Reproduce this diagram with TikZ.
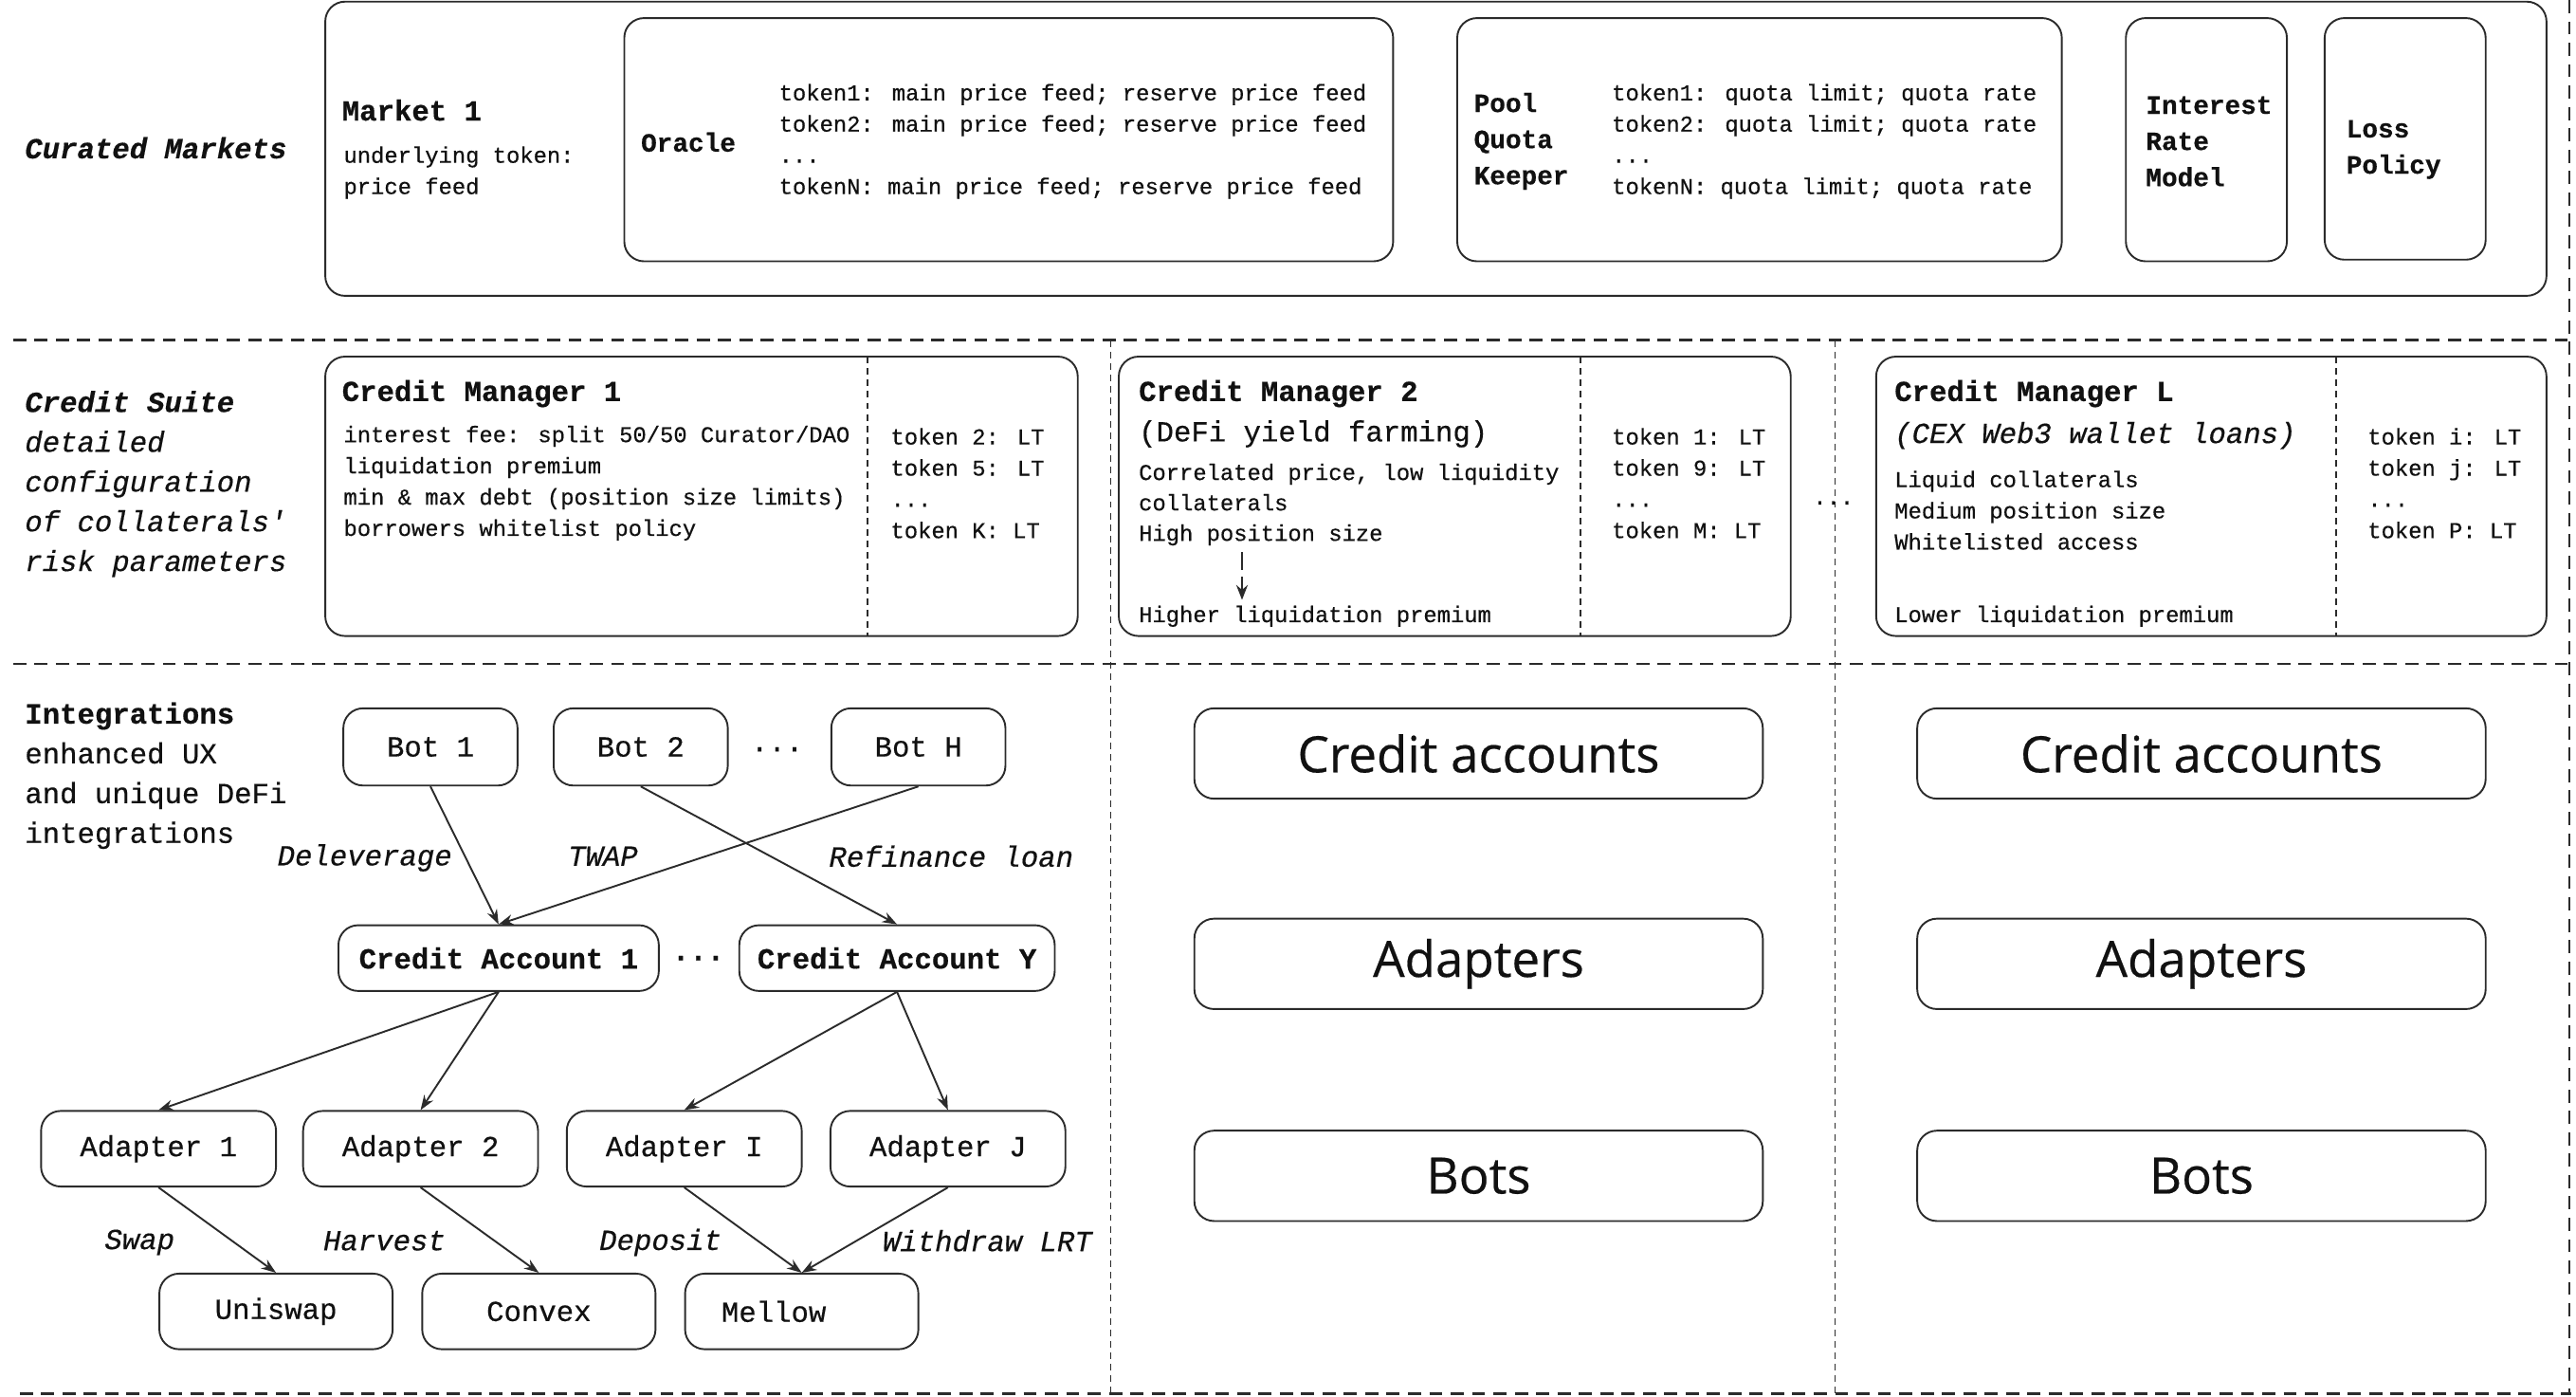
\documentclass[tikz,border=0pt]{standalone}
\usepackage{fontspec}
\setmainfont{Liberation Mono}[Ligatures=TeXOff,FakeBold=0.5]
\newfontfamily\bigsans{Open Sans}[FakeBold=0.4]
\usetikzlibrary{arrows.meta}
\definecolor{lc}{HTML}{2B2B2B}
\definecolor{tc}{HTML}{111111}
\newcommand\mySmall{\fontsize{13.75}{19}\selectfont}
\newcommand\myLarge{\fontsize{17.7}{24.2}\selectfont}
\newcommand\myHead{\fontsize{16}{22}\selectfont}
\newcommand\myBig{\bigsans\fontsize{30.5}{36}\selectfont}
\begin{document}
\begin{tikzpicture}[x=1pt,y=-1pt,
  rbox/.style={draw=lc,line width=1.1pt,rounded corners=12pt,inner sep=0pt,text=tc},
  txt/.style={inner sep=0pt,anchor=west,align=left,text=tc},
  lbl/.style={inner sep=0pt,text=tc,font=\myLarge\itshape},
  arr/.style={draw=lc,line width=1.1pt,-{Stealth[length=9pt,width=6.5pt]}},
  sepline/.style={draw=lc,line width=1.6pt,dash pattern=on 8pt off 5pt},
  thinline/.style={draw=lc,line width=0.7pt,dash pattern=on 4pt off 3pt},
  bot/.style={rbox,minimum width=106pt,minimum height=47pt,font=\myLarge},
  adp/.style={rbox,minimum width=143pt,minimum height=46pt,font=\myLarge},
  cab/.style={rbox,minimum height=40pt,font=\myLarge\bfseries},
  bigbox/.style={rbox,minimum width=346pt,minimum height=55pt,font=\myBig},
]
\useasboundingbox (0,0) rectangle (1568,849.5);

% ---------- section separators ----------
\draw[sepline] (8,207) -- (1565,207);
\draw[sepline] (8,404) -- (1565,404);
\draw[sepline] (12,848) -- (1565,848);
\draw[sepline] (1564,0) -- (1564,848);
\draw[thinline] (676,207) -- (676,848);
\draw[thinline] (1117,207) -- (1117,848);

% ---------- Curated Markets ----------
\node[txt,font=\myLarge\bfseries\itshape] (curated) at (15,90) {Curated Markets};
\node[rbox,minimum width=1352pt,minimum height=179pt] (market) at (874,90.5) {};
\node[txt,font=\myLarge\bfseries] (m1) at (208,67) {Market 1};
\node[txt,font=\mySmall] (m1t) at (209,105) {underlying token:\\price feed};

\node[rbox,minimum width=468pt,minimum height=148pt] (oracle) at (614,85) {};
\node[txt,font=\myHead\bfseries] (oraclet) at (390,86.5) {Oracle};
\node[txt,font=\mySmall] (oraclel) at (474,86) {token1: main price feed; reserve price feed\\token2: main price feed; reserve price feed\\...\\tokenN: main price feed; reserve price feed};

\node[rbox,minimum width=368pt,minimum height=148pt] (pqk) at (1071,85) {};
\node[txt,font=\myHead\bfseries] (pqkt) at (897,86) {Pool\\Quota\\Keeper};
\node[txt,font=\mySmall] (pqkl) at (981,86) {token1: quota limit; quota rate\\token2: quota limit; quota rate\\...\\tokenN: quota limit; quota rate};

\node[rbox,minimum width=98pt,minimum height=148pt] (irm) at (1343,85) {};
\node[txt,font=\myHead\bfseries] (irmt) at (1306,86) {Interest\\Rate\\Model};

\node[rbox,minimum width=98pt,minimum height=147pt] (lp) at (1464,84.5) {};
\node[txt,font=\myHead\bfseries] (lpt) at (1428,91) {Loss\\Policy};

% ---------- Credit Suite ----------
\node[txt,font=\myLarge] (suite) at (15,294.5) {\textbf{\textit{Credit Suite}}\\\textit{detailed}\\\textit{configuration}\\\textit{of collaterals'}\\\textit{risk parameters}};

% CM1
\node[rbox,minimum width=458pt,minimum height=170pt] (cm1) at (427,302) {};
\draw[thinline] (528,217) -- (528,387);
\node[txt,font=\myLarge\bfseries] (cm1h) at (208,239.5) {Credit Manager 1};
\node[txt,font=\mySmall] (cm1l) at (209,294) {interest fee: split 50/50 Curator/DAO\\liquidation premium\\min \& max debt (position size limits)\\borrowers whitelist policy};
\node[txt,font=\mySmall] (cm1r) at (542,294) {token 2: LT\\token 5: LT\\...\\token K: LT};

% CM2
\node[rbox,minimum width=409pt,minimum height=170pt] (cm2) at (885.5,302) {};
\draw[thinline] (962,217) -- (962,387);
\node[txt,font=\myLarge\bfseries] (cm2h) at (693,239.5) {Credit Manager 2};
\node[txt,font=\myLarge] (cm2s) at (693,264) {(DeFi yield farming)};
\node[txt,font=\fontsize{13.75}{18.5}\selectfont] (cm2l) at (693,307) {Correlated price, low liquidity\\collaterals\\High position size};
\node[txt,font=\mySmall] (cm2b) at (693,375) {Higher liquidation premium};
\coordinate (cm2a) at (756,336);
\coordinate (cm2z) at (756,365);
\draw[draw=lc,line width=1.2pt,dash pattern=on 11pt off 4pt,-{Stealth[length=9pt,width=7pt]}] (cm2a) -- (cm2z);
\node[txt,font=\mySmall] (cm2r) at (981,294) {token 1: LT\\token 9: LT\\...\\token M: LT};

\node[inner sep=0pt,font=\mySmall,text=tc] (cmdots) at (1116,306) {...};

% CML
\node[rbox,minimum width=408pt,minimum height=170pt] (cml) at (1346,302) {};
\draw[thinline] (1422,217) -- (1422,387);
\node[txt,font=\myLarge\bfseries] (cmlh) at (1153,239.5) {Credit Manager L};
\node[txt,font=\myLarge\itshape] (cmls) at (1153,265) {(CEX Web3 wallet loans)};
\node[txt,font=\mySmall] (cmll) at (1153,310.5) {Liquid collaterals\\Medium position size\\Whitelisted access};
\node[txt,font=\mySmall] (cmlb) at (1153,375) {Lower liquidation premium};
\node[txt,font=\mySmall] (cmlr) at (1441,294) {token i: LT\\token j: LT\\...\\token P: LT};

% ---------- Integrations ----------
\node[txt,font=\myLarge] (integ) at (15,472) {\textbf{Integrations}\\enhanced UX\\and unique DeFi\\integrations};

\node[bot] (bot1) at (262,454.5) {Bot 1};
\node[bot] (bot2) at (390,454.5) {Bot 2};
\node[bot] (both) at (559,454.5) {Bot H};
\node[inner sep=0pt,font=\myLarge,text=tc] (botdots) at (473,456) {...};

\node[cab,minimum width=195pt] (ca1) at (303.5,583) {Credit Account 1};
\node[cab,minimum width=192pt] (cay) at (546,583) {Credit Account Y};
\node[inner sep=0pt,font=\myLarge\bfseries,text=tc] (cadots) at (425,583) {...};

\draw[arr] (bot1.south) -- (ca1.north);
\draw[arr] (both.south) -- (ca1.north);
\draw[arr] (bot2.south) -- (cay.north);
\node[lbl] (l1) at (222,522) {Deleverage};
\node[lbl] (l2) at (367,521) {TWAP};
\node[lbl] (l3) at (579,521) {Refinance loan};

\node[adp] (a1) at (96.5,699) {Adapter 1};
\node[adp] (a2) at (256,699) {Adapter 2};
\node[adp] (ai) at (416.5,699) {Adapter I};
\node[adp] (aj) at (577,699) {Adapter J};

\draw[arr] (ca1.south) -- (a1.north);
\draw[arr] (ca1.south) -- (a2.north);
\draw[arr] (cay.south) -- (ai.north);
\draw[arr] (cay.south) -- (aj.north);

\node[adp,minimum width=142pt] (uni) at (168,798) {Uniswap};
\node[adp,minimum width=142pt] (cvx) at (328,798) {Convex};
\node[adp,minimum width=142pt] (mel) at (488,798) {};
\node[inner sep=0pt,font=\myLarge,text=tc] (melt) at (471,798) {Mellow};

\draw[arr] (a1.south) -- (uni.north);
\draw[arr] (a2.south) -- (cvx.north);
\draw[arr] (ai.south) -- (mel.north);
\draw[arr] (aj.south) -- (mel.north);
\node[lbl] (l4) at (85,756) {Swap};
\node[lbl] (l5) at (234,755) {Harvest};
\node[lbl] (l6) at (402,756) {Deposit};
\node[lbl] (l7) at (601,755) {Withdraw LRT};

% ---------- right columns ----------
\node[bigbox] (ca2) at (900,458.5) {Credit accounts};
\node[bigbox] (ad2) at (900,586.5) {Adapters};
\node[bigbox] (bo2) at (900,715.5) {Bots};
\node[bigbox] (ca3) at (1340,458.5) {Credit accounts};
\node[bigbox] (ad3) at (1340,586.5) {Adapters};
\node[bigbox] (bo3) at (1340,715.5) {Bots};
\end{tikzpicture}
\end{document}
